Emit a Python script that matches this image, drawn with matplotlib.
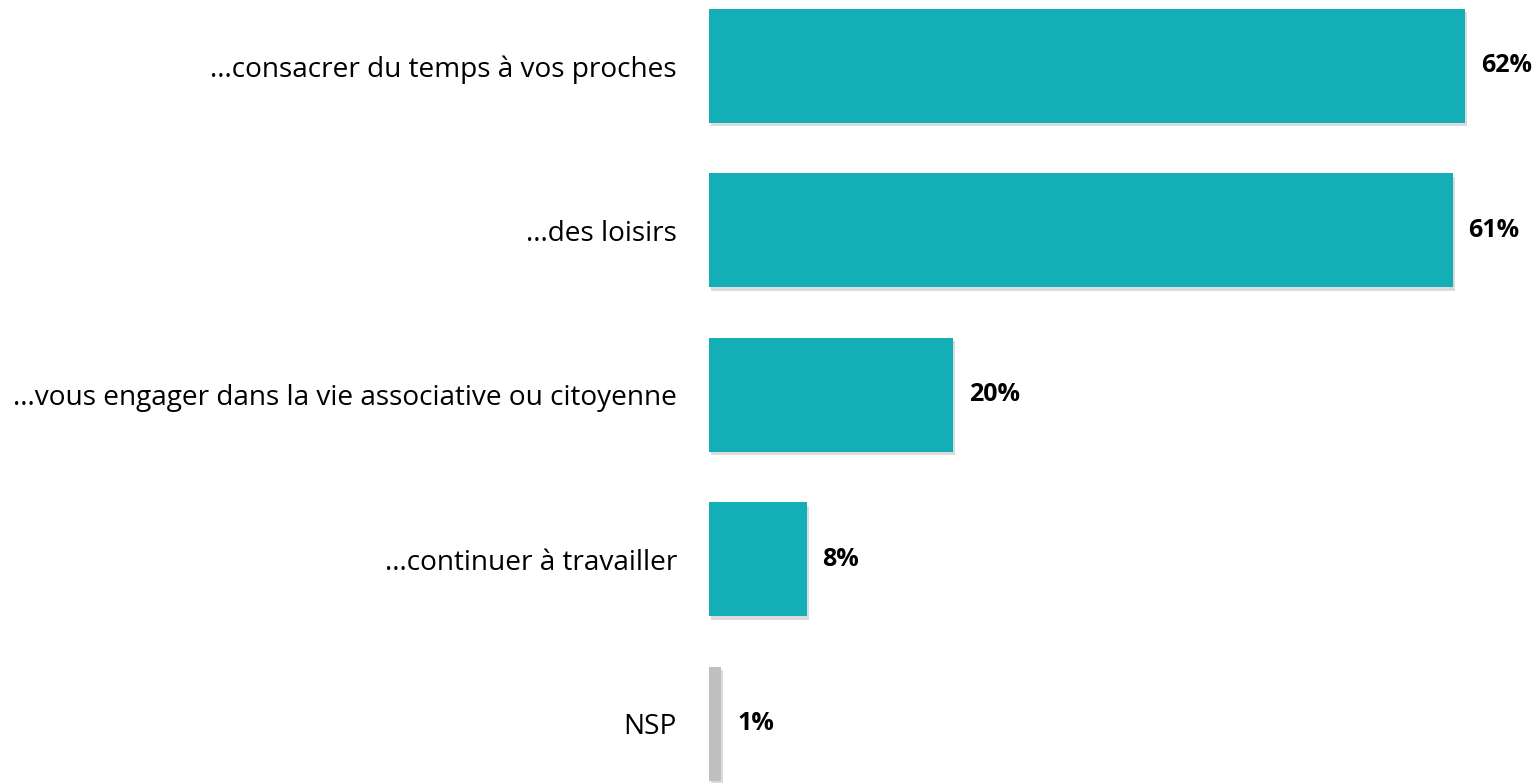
import matplotlib.pyplot as plt
import matplotlib.patheffects as pe

## données
categories = ["...consacrer du temps à vos proches", "...des loisirs",
              "...vous engager dans la vie associative ou citoyenne",
              "...continuer à travailler", "NSP"]
valeurs = [62, 61, 20, 8, 1]
couleurs = ["#14AFB6", "#14AFB6", "#14AFB6", "#14AFB6", "#BFBFBF"]

plt.rcParams['font.family'] = ['Open Sans', 'DejaVu Sans']

fig = plt.figure(figsize=(15.39, 7.83), dpi=100)
ax = fig.add_axes([709 / 1539, 0, 829 / 1539, 1])

pos = range(len(categories))
barres = ax.barh(pos, valeurs, height=0.693, color=couleurs)
for b in barres:
    b.set_path_effects([pe.SimplePatchShadow(offset=(1.5, -2.5), shadow_rgbFace="#999999", alpha=0.35),
                        pe.Normal()])

for i, v in enumerate(valeurs):
    ax.text(v + 1.3, i, f"{v}%", va="center", ha="left",
            fontsize=18, fontweight="bold", color="black")

ax.set_xlim(0, 68)
ax.set_ylim(4.359, -0.401)
ax.set_yticks(list(pos))
ax.set_yticklabels(categories, fontsize=20.2)
ax.tick_params(axis="y", length=0, pad=23)
ax.set_xticks([])
for s in ax.spines.values():
    s.set_visible(False)

fig.savefig("out.png", dpi=100)
